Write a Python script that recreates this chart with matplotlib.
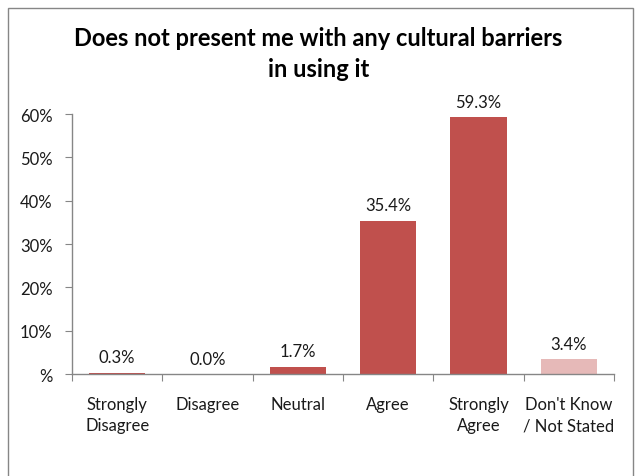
import matplotlib
matplotlib.use("Agg")
from matplotlib import pyplot as plt
from matplotlib.patches import Rectangle
from matplotlib.ticker import FuncFormatter, FixedLocator

categories = ["Strongly\nDisagree", "Disagree", "Neutral", "Agree",
              "Strongly\nAgree", "Don't Know\n/ Not Stated"]
shares = [0.3, 0.0, 1.7, 35.4, 59.3, 3.4]
bar_colors = ["#C0504D"] * 5 + ["#E6B9B8"]
title = "Does not present me with any cultural barriers\nin using it"

AXIS_COLOR = "#868686"
TEXT_COLOR = "#1a1a1a"
plt.rcParams["font.family"] = ["Lato", "DejaVu Sans"]

W, H = 637, 477
fig = plt.figure(figsize=(W / 100, H / 100), dpi=100)

# Chart-area frame, open at the bottom edge
fig.add_artist(Rectangle((8 / W, -0.05), (633 - 8) / W, 1.05 - 9 / H,
                         transform=fig.transFigure, fill=False,
                         edgecolor="#868686", linewidth=1.0))

ax = fig.add_axes([72 / W, 1 - 375 / H, (614 - 72) / W, (375 - 115) / H])
x = list(range(len(categories)))
ax.bar(x, shares, width=0.62, color=bar_colors, zorder=2)

for xi, v in zip(x, shares):
    ax.annotate("%.1f%%" % v, xy=(xi, v), xytext=(0, 7.5),
                textcoords="offset points", ha="center", va="baseline",
                fontsize=12, color=TEXT_COLOR)

ax.set_xlim(-0.5, len(categories) - 0.5)
ax.set_ylim(0, 60)
ax.yaxis.set_major_locator(FixedLocator(range(0, 61, 10)))
ax.yaxis.set_major_formatter(FuncFormatter(
    lambda v, p: "%" if v == 0 else "%d%%" % v))

# category ticks sit on the boundaries between bars
ax.set_xticks([i - 0.5 for i in range(len(categories) + 1)])
ax.set_xticklabels([])
ax.set_xticks(x, minor=True)
ax.set_xticklabels(categories, minor=True, fontsize=12, color=TEXT_COLOR,
                   linespacing=1.4)
ax.tick_params(axis="x", which="minor", length=0, pad=16)
ax.tick_params(axis="x", which="major", length=5, color=AXIS_COLOR,
               direction="out")
ax.tick_params(axis="y", length=5, color=AXIS_COLOR, labelsize=12,
               labelcolor=TEXT_COLOR, pad=9)

for side in ("top", "right"):
    ax.spines[side].set_visible(False)
for side in ("left", "bottom"):
    ax.spines[side].set_color(AXIS_COLOR)
    ax.spines[side].set_linewidth(1.0)

fig.text(0.5, 1 - 54 / H, title, ha="center", va="center",
         fontsize=17, fontweight="bold", linespacing=1.45)

fig.savefig("out.png", dpi=100)
